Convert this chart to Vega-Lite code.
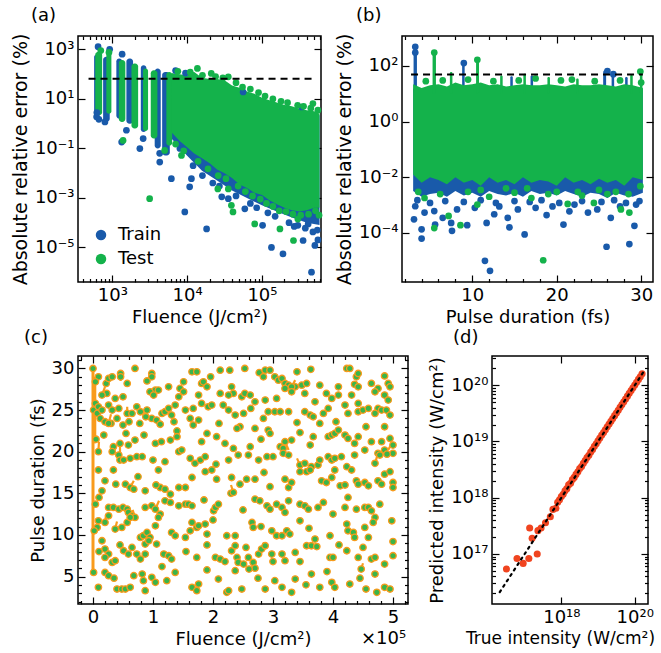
{
"$schema":"https://vega.github.io/schema/vega-lite/v6.json",
"background":"white",
"padding":{"left":10,"top":6,"right":2,"bottom":2},
"autosize":{"type":"pad"},
"spacing":1,
"resolve":{"scale":{"color":"independent"},"legend":{"color":"independent"}},
"datasets":{
"aStripes":[
{"F1":570,"F2":650,"E1":1.4,"E2":600,"s":"Train"},
{"F1":752,"F2":922,"E1":1.2,"E2":500,"s":"Train"},
{"F1":1130,"F2":1350,"E1":1.6,"E2":430,"s":"Train"},
{"F1":1540,"F2":1890,"E1":1.0,"E2":430,"s":"Train"},
{"F1":2400,"F2":2850,"E1":0.46,"E2":230,"s":"Train"},
{"F1":3680,"F2":4430,"E1":0.1,"E2":170,"s":"Train"},
{"F1":4630,"F2":5860,"E1":0.052,"E2":123,"s":"Train"},
{"F1":590,"F2":730,"E1":2.2,"E2":800,"s":"Test"},
{"F1":830,"F2":970,"E1":2.5,"E2":700,"s":"Test"},
{"F1":1220,"F2":1490,"E1":1.17,"E2":370,"s":"Test"},
{"F1":1800,"F2":2210,"E1":0.63,"E2":270,"s":"Test"},
{"F1":2570,"F2":3000,"E1":0.5,"E2":170,"s":"Test"},
{"F1":3260,"F2":4000,"E1":0.25,"E2":145,"s":"Test"},
{"F1":5270,"F2":6300,"E1":0.13,"E2":123,"s":"Test"}
],
"aArea":[
{"F":6170,"hi":80,"lo":0.25,"s":"Train"},
{"F":10000,"hi":80,"lo":0.05,"s":"Train"},
{"F":15800,"hi":63,"lo":0.0126,"s":"Train"},
{"F":25100,"hi":50,"lo":0.005,"s":"Train"},
{"F":39800,"hi":32,"lo":0.002,"s":"Train"},
{"F":63100,"hi":18,"lo":0.001,"s":"Train"},
{"F":100000,"hi":10,"lo":0.0005,"s":"Train"},
{"F":158000,"hi":6.3,"lo":0.00028,"s":"Train"},
{"F":251000,"hi":4.5,"lo":0.00016,"s":"Train"},
{"F":398000,"hi":3.2,"lo":0.0001,"s":"Train"},
{"F":589000,"hi":2.2,"lo":0.00008,"s":"Train"},
{"F":6170,"hi":112,"lo":0.45,"s":"Test"},
{"F":7940,"hi":100,"lo":0.2,"s":"Test"},
{"F":10000,"hi":89,"lo":0.11,"s":"Test"},
{"F":12300,"hi":126,"lo":0.063,"s":"Test"},
{"F":15800,"hi":71,"lo":0.04,"s":"Test"},
{"F":20000,"hi":63,"lo":0.025,"s":"Test"},
{"F":25100,"hi":63,"lo":0.014,"s":"Test"},
{"F":31600,"hi":56,"lo":0.01,"s":"Test"},
{"F":39800,"hi":35,"lo":0.0063,"s":"Test"},
{"F":50100,"hi":28,"lo":0.0035,"s":"Test"},
{"F":63100,"hi":20,"lo":0.0025,"s":"Test"},
{"F":79400,"hi":16,"lo":0.0016,"s":"Test"},
{"F":100000,"hi":11,"lo":0.0013,"s":"Test"},
{"F":126000,"hi":8.9,"lo":0.0008,"s":"Test"},
{"F":158000,"hi":7.1,"lo":0.00056,"s":"Test"},
{"F":200000,"hi":5.6,"lo":0.0004,"s":"Test"},
{"F":251000,"hi":5,"lo":0.00032,"s":"Test"},
{"F":316000,"hi":4,"lo":0.00028,"s":"Test"},
{"F":398000,"hi":3.5,"lo":0.00032,"s":"Test"},
{"F":501000,"hi":3.2,"lo":0.0004,"s":"Test"},
{"F":589000,"hi":2.5,"lo":0.0004,"s":"Test"}
],
"aPts":[
{"F":644,"E":1280,"s":"Train"},{"F":920,"E":1000,"s":"Train"},{"F":1350,"E":640,"s":"Train"},{"F":56000,"E":19,"s":"Train"},{"F":340000,"E":4.7,"s":"Train"},
{"F":615,"E":1.9,"s":"Train"},{"F":795,"E":1.17,"s":"Train"},{"F":1540,"E":0.54,"s":"Train"},{"F":1330,"E":0.18,"s":"Train"},{"F":2330,"E":0.098,"s":"Train"},
{"F":2580,"E":0.25,"s":"Train"},{"F":4290,"E":0.063,"s":"Train"},{"F":4300,"E":0.028,"s":"Train"},{"F":6150,"E":0.006,"s":"Train"},{"F":11400,"E":0.006,"s":"Train"},
{"F":10800,"E":0.0028,"s":"Train"},{"F":9300,"E":0.00027,"s":"Train"},{"F":18200,"E":0.000056,"s":"Train"},{"F":29000,"E":0.0011,"s":"Train"},{"F":35500,"E":0.00093,"s":"Train"},
{"F":59000,"E":0.00036,"s":"Train"},{"F":102000,"E":0.000078,"s":"Train"},{"F":134000,"E":0.00001,"s":"Train"},{"F":191000,"E":0.0000055,"s":"Train"},{"F":355000,"E":0.000019,"s":"Train"},
{"F":415000,"E":0.000089,"s":"Train"},{"F":510000,"E":0.000012,"s":"Train"},{"F":460000,"E":0.000001,"s":"Train"},{"F":480000,"E":0.000042,"s":"Train"},{"F":302000,"E":0.000078,"s":"Train"},
{"F":8000,"E":0.1,"s":"Train"},{"F":12000,"E":0.02,"s":"Train"},{"F":16000,"E":0.008,"s":"Train"},{"F":22000,"E":0.004,"s":"Train"},{"F":27000,"E":0.003,"s":"Train"},
{"F":45000,"E":0.0012,"s":"Train"},{"F":70000,"E":0.0006,"s":"Train"},{"F":85000,"E":0.0004,"s":"Train"},{"F":120000,"E":0.00025,"s":"Train"},{"F":150000,"E":0.00018,"s":"Train"},
{"F":230000,"E":0.0001,"s":"Train"},{"F":270000,"E":0.00007,"s":"Train"},{"F":380000,"E":0.00006,"s":"Train"},{"F":550000,"E":0.00005,"s":"Train"},{"F":560000,"E":0.00002,"s":"Train"},
{"F":7000,"E":140,"s":"Train"},{"F":9500,"E":110,"s":"Train"},{"F":620,"E":2.8,"s":"Train"},{"F":660,"E":1.5,"s":"Train"},
{"F":13700,"E":170,"s":"Test"},{"F":21000,"E":107,"s":"Test"},{"F":35500,"E":78,"s":"Test"},{"F":480000,"E":6.5,"s":"Test"},{"F":1390,"E":0.21,"s":"Test"},
{"F":5000,"E":0.083,"s":"Test"},{"F":8400,"E":0.052,"s":"Test"},{"F":3150,"E":0.00093,"s":"Test"},{"F":25700,"E":0.0023,"s":"Test"},{"F":35500,"E":0.0023,"s":"Test"},
{"F":39000,"E":0.0005,"s":"Test"},{"F":41000,"E":0.00027,"s":"Test"},{"F":80000,"E":0.000089,"s":"Test"},{"F":174000,"E":0.000056,"s":"Test"},{"F":264000,"E":0.000019,"s":"Test"},
{"F":302000,"E":0.00014,"s":"Test"},{"F":7500,"E":130,"s":"Test"},{"F":11000,"E":120,"s":"Test"},{"F":16000,"E":90,"s":"Test"},{"F":24000,"E":80,"s":"Test"},
{"F":30000,"E":70,"s":"Test"},{"F":45000,"E":45,"s":"Test"},{"F":55000,"E":30,"s":"Test"},{"F":70000,"E":25,"s":"Test"},{"F":90000,"E":18,"s":"Test"},
{"F":110000,"E":13,"s":"Test"},{"F":140000,"E":10,"s":"Test"},{"F":180000,"E":8,"s":"Test"},{"F":220000,"E":7,"s":"Test"},{"F":300000,"E":5.5,"s":"Test"},
{"F":360000,"E":5,"s":"Test"},{"F":450000,"E":4.2,"s":"Test"},{"F":560000,"E":3.5,"s":"Test"},{"F":7000,"E":0.15,"s":"Test"},{"F":9000,"E":0.08,"s":"Test"},
{"F":14000,"E":0.03,"s":"Test"},{"F":19000,"E":0.015,"s":"Test"},{"F":26000,"E":0.008,"s":"Test"},{"F":33000,"E":0.006,"s":"Test"},{"F":48000,"E":0.003,"s":"Test"},
{"F":60000,"E":0.0018,"s":"Test"},{"F":75000,"E":0.0012,"s":"Test"},{"F":95000,"E":0.0009,"s":"Test"},{"F":115000,"E":0.0006,"s":"Test"},{"F":140000,"E":0.00045,"s":"Test"},
{"F":170000,"E":0.0003,"s":"Test"},{"F":210000,"E":0.00028,"s":"Test"},{"F":260000,"E":0.00022,"s":"Test"},{"F":330000,"E":0.0002,"s":"Test"},{"F":420000,"E":0.00022,"s":"Test"},
{"F":520000,"E":0.0003,"s":"Test"},{"F":580000,"E":0.0002,"s":"Test"},{"F":700,"E":900,"s":"Test"},{"F":900,"E":750,"s":"Test"}
],
"aDash":[{"F":480,"F2":530000,"E":65}],
"bArea":[
{"t":3.0,"hi":15,"lo":0.0032,"s":"Train"},{"t":4,"hi":15,"lo":0.002,"s":"Train"},{"t":5,"hi":15,"lo":0.0025,"s":"Train"},{"t":6,"hi":15,"lo":0.0028,"s":"Train"},
{"t":7,"hi":15,"lo":0.002,"s":"Train"},{"t":8,"hi":15,"lo":0.0032,"s":"Train"},{"t":9,"hi":15,"lo":0.0022,"s":"Train"},{"t":10,"hi":15,"lo":0.0028,"s":"Train"},
{"t":11,"hi":15,"lo":0.002,"s":"Train"},{"t":12,"hi":15,"lo":0.0032,"s":"Train"},{"t":13,"hi":15,"lo":0.0025,"s":"Train"},{"t":14,"hi":15,"lo":0.0022,"s":"Train"},
{"t":15,"hi":15,"lo":0.0028,"s":"Train"},{"t":16,"hi":15,"lo":0.002,"s":"Train"},{"t":17,"hi":15,"lo":0.0032,"s":"Train"},{"t":18,"hi":15,"lo":0.0025,"s":"Train"},
{"t":19,"hi":15,"lo":0.0028,"s":"Train"},{"t":20,"hi":15,"lo":0.0022,"s":"Train"},{"t":21,"hi":15,"lo":0.0032,"s":"Train"},{"t":22,"hi":15,"lo":0.0025,"s":"Train"},
{"t":23,"hi":15,"lo":0.002,"s":"Train"},{"t":24,"hi":15,"lo":0.0028,"s":"Train"},{"t":25,"hi":15,"lo":0.0025,"s":"Train"},{"t":26,"hi":15,"lo":0.0018,"s":"Train"},
{"t":27,"hi":15,"lo":0.0028,"s":"Train"},{"t":28,"hi":15,"lo":0.0022,"s":"Train"},{"t":29,"hi":15,"lo":0.002,"s":"Train"},{"t":30.2,"hi":15,"lo":0.0028,"s":"Train"},
{"t":3.0,"hi":22,"lo":0.0126,"s":"Test"},{"t":4,"hi":16,"lo":0.0063,"s":"Test"},{"t":5,"hi":20,"lo":0.01,"s":"Test"},{"t":6,"hi":22,"lo":0.0079,"s":"Test"},
{"t":7,"hi":18,"lo":0.0056,"s":"Test"},{"t":8,"hi":25,"lo":0.01,"s":"Test"},{"t":9,"hi":20,"lo":0.0063,"s":"Test"},{"t":10,"hi":22,"lo":0.0079,"s":"Test"},
{"t":11,"hi":25,"lo":0.005,"s":"Test"},{"t":12,"hi":20,"lo":0.01,"s":"Test"},{"t":13,"hi":22,"lo":0.0063,"s":"Test"},{"t":14,"hi":18,"lo":0.0079,"s":"Test"},
{"t":15,"hi":20,"lo":0.0056,"s":"Test"},{"t":16,"hi":22,"lo":0.01,"s":"Test"},{"t":17,"hi":20,"lo":0.0063,"s":"Test"},{"t":18,"hi":20,"lo":0.0079,"s":"Test"},
{"t":19,"hi":22,"lo":0.0071,"s":"Test"},{"t":20,"hi":20,"lo":0.005,"s":"Test"},{"t":21,"hi":18,"lo":0.01,"s":"Test"},{"t":22,"hi":22,"lo":0.0063,"s":"Test"},
{"t":23,"hi":20,"lo":0.0079,"s":"Test"},{"t":24,"hi":20,"lo":0.0056,"s":"Test"},{"t":25,"hi":22,"lo":0.0089,"s":"Test"},{"t":26,"hi":20,"lo":0.0063,"s":"Test"},
{"t":27,"hi":18,"lo":0.0079,"s":"Test"},{"t":28,"hi":22,"lo":0.005,"s":"Test"},{"t":29,"hi":20,"lo":0.01,"s":"Test"},{"t":30.2,"hi":16,"lo":0.0079,"s":"Test"}
],
"bSpikes":[
{"t1":3.05,"t2":3.45,"e1":10,"e2":430,"s":"Train"},{"t1":8.8,"t2":9.1,"e1":10,"e2":125,"s":"Train"},{"t1":14.5,"t2":14.8,"e1":10,"e2":42,"s":"Train"},
{"t1":16.9,"t2":17.2,"e1":10,"e2":45,"s":"Train"},{"t1":25.5,"t2":25.85,"e1":10,"e2":68,"s":"Train"},{"t1":26.5,"t2":26.8,"e1":10,"e2":52,"s":"Train"},
{"t1":28.1,"t2":28.4,"e1":10,"e2":40,"s":"Train"},
{"t1":5.3,"t2":5.7,"e1":10,"e2":330,"s":"Test"},{"t1":10.45,"t2":10.8,"e1":10,"e2":150,"s":"Test"},{"t1":7.35,"t2":7.65,"e1":10,"e2":60,"s":"Test"},
{"t1":13.3,"t2":13.6,"e1":10,"e2":45,"s":"Test"},{"t1":16.05,"t2":16.35,"e1":10,"e2":52,"s":"Test"},{"t1":18.9,"t2":19.2,"e1":10,"e2":40,"s":"Test"},
{"t1":22.3,"t2":22.6,"e1":10,"e2":35,"s":"Test"},{"t1":28.7,"t2":29.0,"e1":10,"e2":48,"s":"Test"},{"t1":29.85,"t2":30.15,"e1":10,"e2":62,"s":"Test"}
],
"bPts":[
{"t":3.1,"e":0.00031,"s":"Train"},{"t":4.0,"e":0.000063,"s":"Train"},{"t":4.0,"e":0.000135,"s":"Train"},{"t":3.25,"e":0.00091,"s":"Train"},{"t":4.35,"e":0.00054,"s":"Train"},
{"t":5.5,"e":0.00061,"s":"Train"},{"t":5.6,"e":0.0002,"s":"Train"},{"t":6.5,"e":0.00035,"s":"Train"},{"t":7.5,"e":0.00023,"s":"Train"},{"t":7.6,"e":0.00012,"s":"Train"},
{"t":9.4,"e":0.00019,"s":"Train"},{"t":11.5,"e":0.00001,"s":"Train"},{"t":12.1,"e":0.0000044,"s":"Train"},{"t":11.7,"e":0.00023,"s":"Train"},{"t":12.6,"e":0.00047,"s":"Train"},
{"t":14.2,"e":0.00035,"s":"Train"},{"t":14.4,"e":0.00016,"s":"Train"},{"t":16.2,"e":0.000089,"s":"Train"},{"t":15.4,"e":0.0007,"s":"Train"},{"t":18.8,"e":0.00044,"s":"Train"},
{"t":20.8,"e":0.0002,"s":"Train"},{"t":22.1,"e":0.00105,"s":"Train"},{"t":23.7,"e":0.00054,"s":"Train"},{"t":25.9,"e":0.000032,"s":"Train"},{"t":26.4,"e":0.00035,"s":"Train"},
{"t":28.6,"e":0.00004,"s":"Train"},{"t":29.2,"e":0.00018,"s":"Train"},{"t":29.4,"e":0.00105,"s":"Train"},{"t":17.5,"e":0.0008,"s":"Train"},{"t":19.5,"e":0.0009,"s":"Train"},
{"t":24.8,"e":0.0007,"s":"Train"},{"t":27.5,"e":0.0009,"s":"Train"},{"t":10.3,"e":0.0008,"s":"Train"},{"t":13.2,"e":0.0009,"s":"Train"},{"t":8.2,"e":0.0007,"s":"Train"},
{"t":21.5,"e":0.0006,"s":"Train"},{"t":3.25,"e":480,"s":"Train"},{"t":3.25,"e":300,"s":"Train"},{"t":26.0,"e":65,"s":"Train"},{"t":26.7,"e":50,"s":"Train"},
{"t":9.0,"e":125,"s":"Train"},{"t":3.5,"e":0.0015,"s":"Train"},{"t":5.0,"e":0.0012,"s":"Train"},{"t":6.8,"e":0.0014,"s":"Train"},{"t":9.0,"e":0.0013,"s":"Train"},
{"t":11.0,"e":0.0015,"s":"Train"},{"t":12.8,"e":0.0012,"s":"Train"},{"t":15.0,"e":0.0014,"s":"Train"},{"t":16.8,"e":0.0013,"s":"Train"},{"t":18.2,"e":0.0015,"s":"Train"},
{"t":20.3,"e":0.0012,"s":"Train"},{"t":23.0,"e":0.0014,"s":"Train"},{"t":25.3,"e":0.0013,"s":"Train"},{"t":26.8,"e":0.0015,"s":"Train"},{"t":28.2,"e":0.0012,"s":"Train"},
{"t":29.8,"e":0.0014,"s":"Train"},
{"t":5.5,"e":0.00015,"s":"Test"},{"t":8.6,"e":0.00019,"s":"Test"},{"t":7.2,"e":0.00041,"s":"Test"},{"t":10.6,"e":0.00105,"s":"Test"},{"t":18.4,"e":0.0000105,"s":"Test"},
{"t":21.3,"e":0.0011,"s":"Test"},{"t":24.4,"e":0.0012,"s":"Test"},{"t":27.6,"e":0.0007,"s":"Test"},{"t":28.6,"e":0.00054,"s":"Test"},{"t":29.9,"e":0.0048,"s":"Test"},
{"t":4.35,"e":0.0018,"s":"Test"},{"t":6.2,"e":0.0025,"s":"Test"},{"t":12.0,"e":0.002,"s":"Test"},{"t":15.0,"e":0.0028,"s":"Test"},{"t":17.0,"e":0.0018,"s":"Test"},
{"t":20.0,"e":0.003,"s":"Test"},{"t":23.0,"e":0.0022,"s":"Test"},{"t":26.0,"e":0.0025,"s":"Test"},{"t":9.5,"e":0.003,"s":"Test"},{"t":14.0,"e":0.004,"s":"Test"},
{"t":19.0,"e":0.0025,"s":"Test"},{"t":25.0,"e":0.0035,"s":"Test"},{"t":3.6,"e":0.003,"s":"Test"},{"t":11.0,"e":0.0035,"s":"Test"},{"t":16.5,"e":0.004,"s":"Test"},
{"t":22.5,"e":0.003,"s":"Test"},{"t":27.0,"e":0.003,"s":"Test"},{"t":28.5,"e":0.0025,"s":"Test"},{"t":5.5,"e":300,"s":"Test"},{"t":10.6,"e":165,"s":"Test"},
{"t":29.9,"e":62,"s":"Test"},{"t":4.5,"e":28,"s":"Test"},{"t":6.5,"e":30,"s":"Test"},{"t":9.5,"e":32,"s":"Test"},{"t":12.5,"e":28,"s":"Test"},
{"t":15.5,"e":30,"s":"Test"},{"t":17.5,"e":35,"s":"Test"},{"t":20.5,"e":30,"s":"Test"},{"t":21.8,"e":32,"s":"Test"},{"t":24.5,"e":28,"s":"Test"},
{"t":27.5,"e":30,"s":"Test"},{"t":30.0,"e":25,"s":"Test"}
],
"bDash":[{"t":2.75,"t2":30.2,"e":49}],
"cLong":[{"f":0,"t":5.5,"f2":0,"t2":30},{"f":0.03,"t":21,"f2":0.03,"t2":29}],
"cSeg":[
{"f":0.95,"t":27.6,"f2":1.01,"t2":26.4},{"f":0.46,"t":29.4,"f2":0.46,"t2":28.5},{"f":1.04,"t":26.8,"f2":1.1,"t2":27.6},{"f":0.98,"t":29.4,"f2":0.98,"t2":28.7},
{"f":0.57,"t":24.6,"f2":0.57,"t2":25.4},{"f":0.45,"t":21.0,"f2":0.45,"t2":19.0},{"f":0.26,"t":23.4,"f2":0.3,"t2":24.5},{"f":0.15,"t":26.8,"f2":0.2,"t2":27.8},
{"f":1.62,"t":19.2,"f2":1.7,"t2":18.6},{"f":1.43,"t":20.0,"f2":1.48,"t2":20.6},{"f":3.2,"t":21.2,"f2":3.26,"t2":20.2},{"f":2.34,"t":15.1,"f2":2.3,"t2":16.0},
{"f":4.75,"t":19.8,"f2":4.7,"t2":18.6},{"f":3.45,"t":18.4,"f2":3.4,"t2":19.2},{"f":0.62,"t":15.7,"f2":0.68,"t2":16.5},{"f":0.7,"t":12.1,"f2":0.66,"t2":13},
{"f":1.04,"t":13.1,"f2":1.1,"t2":14.1},{"f":0.37,"t":10.7,"f2":0.4,"t2":11.6},{"f":2.81,"t":8.3,"f2":2.85,"t2":9.1},{"f":0.87,"t":8.9,"f2":0.9,"t2":9.6},
{"f":4.47,"t":5.9,"f2":4.5,"t2":6.6},{"f":1.73,"t":3.3,"f2":1.76,"t2":4.1},{"f":3.31,"t":27.8,"f2":3.37,"t2":28.6},{"f":0.09,"t":20.0,"f2":0.1,"t2":21.2},
{"f":0.2,"t":11.5,"f2":0.22,"t2":12.5},{"f":4.92,"t":20.2,"f2":4.98,"t2":21.0}
],
"cPts":[
{"f":0,"t":30},{"f":0.7,"t":30},{"f":0.46,"t":29.4},{"f":0.46,"t":29.0},{"f":0.98,"t":29.4},{"f":0.98,"t":29.0},{"f":1.65,"t":29.6},{"f":1.73,"t":29.6},{"f":1.96,"t":29.0},{"f":2.12,"t":29.8},
{"f":2.28,"t":29.8},{"f":2.53,"t":30},{"f":2.77,"t":29.5},{"f":2.87,"t":29.8},{"f":2.95,"t":29.8},{"f":2.84,"t":29.0},{"f":3.37,"t":27.8},{"f":3.4,"t":29.6},{"f":3.63,"t":29.9},{"f":4.23,"t":30},
{"f":4.28,"t":30},{"f":4.39,"t":29.0},{"f":4.42,"t":29.4},{"f":4.86,"t":29.1},{"f":4.92,"t":28.2},{"f":0.22,"t":28.2},{"f":0.26,"t":28.8},{"f":0.32,"t":29.0},{"f":0.09,"t":29.0},{"f":0.04,"t":28.4},
{"f":0.57,"t":28.2},{"f":0.9,"t":28.5},{"f":1.04,"t":27.4},{"f":1.45,"t":27.6},{"f":1.51,"t":28.4},{"f":1.81,"t":28.2},{"f":1.84,"t":28.4},{"f":1.9,"t":27.8},{"f":2.31,"t":27.8},{"f":2.34,"t":27.0},
{"f":3.03,"t":29.0},{"f":3.09,"t":28.6},{"f":3.15,"t":28.8},{"f":3.2,"t":28.2},{"f":3.26,"t":28.0},{"f":3.31,"t":27.8},{"f":3.48,"t":28.0},{"f":3.56,"t":28.2},{"f":3.78,"t":28.0},{"f":4.09,"t":27.8},
{"f":4.36,"t":28.1},{"f":4.42,"t":27.8},{"f":4.64,"t":28.2},{"f":4.75,"t":27.6},{"f":4.95,"t":27.8},
{"f":0.23,"t":27.0},{"f":0.15,"t":26.8},{"f":0.37,"t":26.4},{"f":0.5,"t":26.6},{"f":0.95,"t":27.2},{"f":1.01,"t":26.8},{"f":1.09,"t":27.4},{"f":1.26,"t":27.8},{"f":1.43,"t":26.6},{"f":1.51,"t":27.2},
{"f":1.76,"t":26.8},{"f":1.81,"t":25.8},{"f":2.12,"t":27.0},{"f":2.26,"t":26.8},{"f":2.48,"t":26.6},{"f":2.53,"t":27.0},{"f":2.62,"t":26.8},{"f":2.7,"t":26.0},{"f":2.87,"t":26.2},{"f":3.06,"t":26.4},
{"f":3.2,"t":27.6},{"f":3.31,"t":27.2},{"f":3.53,"t":27.0},{"f":3.7,"t":26.0},{"f":3.89,"t":27.0},{"f":3.98,"t":26.4},{"f":4.09,"t":26.8},{"f":4.31,"t":26.8},{"f":4.42,"t":25.8},{"f":4.7,"t":27.2},
{"f":4.86,"t":26.8},{"f":4.92,"t":26.2},{"f":4.75,"t":25.2},
{"f":0.04,"t":25.8},{"f":0.01,"t":25.0},{"f":0.09,"t":25.4},{"f":0.07,"t":24.6},{"f":0.15,"t":25.0},{"f":0.26,"t":25.6},{"f":0.32,"t":25.0},{"f":0.43,"t":25.2},{"f":0.57,"t":24.6},{"f":0.65,"t":24.6},
{"f":0.73,"t":25.4},{"f":0.79,"t":24.8},{"f":0.9,"t":25.0},{"f":0.98,"t":24.0},{"f":1.06,"t":23.8},{"f":1.15,"t":24.6},{"f":1.2,"t":24.8},{"f":1.26,"t":25.2},{"f":1.31,"t":24.4},{"f":1.37,"t":25.6},
{"f":1.54,"t":25.0},{"f":1.62,"t":24.0},{"f":1.67,"t":25.2},{"f":1.76,"t":23.8},{"f":1.92,"t":25.4},{"f":1.98,"t":25.6},{"f":2.17,"t":25.6},{"f":2.26,"t":25.0},{"f":2.37,"t":24.4},{"f":2.51,"t":24.6},
{"f":2.63,"t":25.2},{"f":2.84,"t":24.0},{"f":2.92,"t":24.8},{"f":3.03,"t":24.8},{"f":3.12,"t":24.8},{"f":3.26,"t":24.8},{"f":3.53,"t":24.8},{"f":3.62,"t":24.4},{"f":3.67,"t":24.2},{"f":3.78,"t":23.4},
{"f":3.84,"t":24.6},{"f":3.92,"t":25.2},{"f":4.2,"t":25.6},{"f":4.25,"t":24.6},{"f":4.42,"t":24.8},{"f":4.5,"t":25.0},{"f":4.59,"t":25.2},{"f":4.7,"t":24.6},{"f":4.81,"t":25.0},{"f":4.89,"t":25.0},
{"f":4.95,"t":24.4},{"f":4.86,"t":23.0},{"f":0.12,"t":24.0},{"f":0.2,"t":23.6},{"f":0.3,"t":23.4},{"f":0.4,"t":24.0},{"f":0.5,"t":23.2},{"f":0.6,"t":23.6},{"f":0.78,"t":23.4},{"f":0.88,"t":24.2},
{"f":1.12,"t":23.3},{"f":1.35,"t":23.6},{"f":2.1,"t":23.4},{"f":2.45,"t":23.0},{"f":2.7,"t":22.8},{"f":3.4,"t":23.5},{"f":4.05,"t":23.6},{"f":4.55,"t":23.0},{"f":1.4,"t":22.5},
{"f":0.26,"t":23.4},{"f":0.34,"t":20.6},{"f":0.45,"t":21.0},{"f":0.59,"t":20.8},{"f":0.7,"t":21.4},{"f":1.04,"t":21.0},{"f":1.14,"t":21.2},{"f":1.29,"t":21.4},{"f":1.4,"t":21.8},{"f":1.67,"t":23.2},
{"f":1.81,"t":21.2},{"f":1.9,"t":22.2},{"f":2.06,"t":21.8},{"f":2.34,"t":20.4},{"f":2.4,"t":22.8},{"f":2.62,"t":20.6},{"f":2.92,"t":22.6},{"f":2.95,"t":22.2},{"f":3.12,"t":20.6},{"f":3.17,"t":20.4},
{"f":3.2,"t":21.2},{"f":3.31,"t":21.4},{"f":3.62,"t":20.8},{"f":3.67,"t":21.8},{"f":3.92,"t":21.8},{"f":3.98,"t":22.0},{"f":4.03,"t":22.2},{"f":4.09,"t":22.6},{"f":4.2,"t":22.0},{"f":4.25,"t":21.6},
{"f":4.36,"t":21.0},{"f":4.42,"t":21.8},{"f":4.53,"t":20.2},{"f":4.64,"t":21.2},{"f":4.81,"t":21.2},{"f":4.86,"t":20.2},{"f":4.95,"t":21.6},{"f":5.0,"t":20.8},{"f":0.05,"t":21.5},{"f":0.18,"t":22.0},
{"f":0.55,"t":22.2},{"f":0.85,"t":22.0},{"f":2.2,"t":21.0},{"f":2.8,"t":21.5},{"f":3.45,"t":22.3},
{"f":0.09,"t":20.0},{"f":0.32,"t":20.0},{"f":0.43,"t":19.6},{"f":0.45,"t":19.0},{"f":0.51,"t":19.0},{"f":0.62,"t":19.2},{"f":0.73,"t":19.4},{"f":0.82,"t":19.4},{"f":1.43,"t":20.0},{"f":1.48,"t":20.2},
{"f":1.62,"t":19.2},{"f":1.7,"t":18.6},{"f":1.79,"t":19.0},{"f":1.87,"t":19.4},{"f":2.26,"t":19.0},{"f":2.42,"t":19.6},{"f":2.59,"t":19.6},{"f":2.76,"t":19.0},{"f":2.9,"t":19.4},{"f":3.0,"t":19.4},
{"f":3.17,"t":19.8},{"f":3.26,"t":19.6},{"f":3.45,"t":18.4},{"f":3.53,"t":18.6},{"f":3.64,"t":18.2},{"f":3.75,"t":18.4},{"f":3.78,"t":19.0},{"f":3.92,"t":19.4},{"f":3.98,"t":19.0},{"f":4.03,"t":19.2},
{"f":4.14,"t":19.4},{"f":4.23,"t":18.2},{"f":4.36,"t":19.6},{"f":4.75,"t":19.8},{"f":4.78,"t":19.6},{"f":5.0,"t":19.8},{"f":4.7,"t":18.6},{"f":1.2,"t":18.8},{"f":2.05,"t":18.5},{"f":1.0,"t":19.0},
{"f":4.9,"t":19.7},
{"f":0.09,"t":17.8},{"f":0.34,"t":17.8},{"f":0.38,"t":16.1},{"f":0.54,"t":16.1},{"f":0.62,"t":15.7},{"f":0.68,"t":15.5},{"f":0.87,"t":15.3},{"f":1.09,"t":17.8},{"f":1.12,"t":15.7},{"f":1.2,"t":15.5},
{"f":1.29,"t":14.9},{"f":1.43,"t":15.7},{"f":1.54,"t":15.7},{"f":1.65,"t":16.9},{"f":1.87,"t":17.6},{"f":1.98,"t":17.8},{"f":2.06,"t":16.7},{"f":2.31,"t":16.9},{"f":2.45,"t":16.1},{"f":2.56,"t":16.7},
{"f":2.7,"t":16.7},{"f":3.2,"t":16.7},{"f":3.26,"t":15.7},{"f":3.31,"t":16.3},{"f":3.45,"t":17.6},{"f":3.56,"t":17.6},{"f":3.62,"t":17.8},{"f":3.81,"t":16.5},{"f":3.89,"t":16.3},{"f":3.98,"t":16.9},
{"f":4.03,"t":17.8},{"f":4.12,"t":15.9},{"f":4.31,"t":17.8},{"f":4.39,"t":16.5},{"f":4.42,"t":16.1},{"f":4.53,"t":16.3},{"f":4.59,"t":15.9},{"f":4.75,"t":16.5},{"f":4.81,"t":16.1},{"f":4.86,"t":17.3},
{"f":4.95,"t":17.6},{"f":5.0,"t":16.3},{"f":5.0,"t":15.7},{"f":0.2,"t":16.5},{"f":0.75,"t":17.0},{"f":1.05,"t":16.0},{"f":2.85,"t":17.5},{"f":2.95,"t":15.8},{"f":2.3,"t":15.0},{"f":4.2,"t":16.0},
{"f":0.04,"t":13.7},{"f":0.15,"t":15.3},{"f":0.26,"t":13.3},{"f":0.34,"t":13.3},{"f":0.43,"t":13.1},{"f":0.5,"t":13.3},{"f":0.57,"t":13.1},{"f":0.59,"t":12.7},{"f":0.65,"t":12.3},{"f":0.7,"t":12.1},
{"f":0.87,"t":13.3},{"f":0.98,"t":13.5},{"f":1.04,"t":13.1},{"f":1.12,"t":12.5},{"f":1.2,"t":14.1},{"f":1.29,"t":13.9},{"f":1.43,"t":13.5},{"f":1.54,"t":13.7},{"f":1.59,"t":13.7},{"f":1.65,"t":13.5},
{"f":2.01,"t":12.9},{"f":2.04,"t":13.3},{"f":2.09,"t":13.7},{"f":2.34,"t":15.1},{"f":2.7,"t":14.3},{"f":2.78,"t":14.1},{"f":2.9,"t":13.5},{"f":2.95,"t":13.1},{"f":3.06,"t":13.7},{"f":3.15,"t":13.3},
{"f":3.2,"t":12.7},{"f":3.26,"t":14.1},{"f":3.45,"t":13.7},{"f":3.53,"t":13.5},{"f":3.59,"t":13.1},{"f":3.75,"t":13.3},{"f":3.84,"t":13.9},{"f":4.2,"t":13.3},{"f":4.25,"t":14.5},{"f":4.39,"t":13.1},
{"f":4.53,"t":13.3},{"f":4.59,"t":13.3},{"f":4.64,"t":12.9},{"f":4.7,"t":12.1},{"f":4.78,"t":13.7},{"f":0.1,"t":14.5},{"f":1.85,"t":14.2},{"f":2.5,"t":13.0},{"f":4.0,"t":12.5},
{"f":0.09,"t":11.7},{"f":0.07,"t":10.9},{"f":0.2,"t":11.5},{"f":0.26,"t":12.3},{"f":0.37,"t":10.7},{"f":0.48,"t":10.9},{"f":0.57,"t":11.5},{"f":0.62,"t":12.1},{"f":0.79,"t":9.7},{"f":0.84,"t":9.9},
{"f":0.9,"t":10.3},{"f":0.95,"t":9.7},{"f":1.04,"t":11.1},{"f":1.09,"t":12.1},{"f":1.31,"t":10.3},{"f":1.37,"t":9.9},{"f":1.54,"t":9.7},{"f":1.62,"t":10.5},{"f":1.65,"t":11.5},{"f":1.73,"t":10.9},
{"f":1.76,"t":11.1},{"f":1.87,"t":11.3},{"f":1.9,"t":10.1},{"f":2.23,"t":9.9},{"f":2.37,"t":9.9},{"f":2.65,"t":11.5},{"f":2.67,"t":10.9},{"f":2.98,"t":10.5},{"f":3.06,"t":9.9},{"f":3.15,"t":9.9},
{"f":3.23,"t":10.5},{"f":3.28,"t":10.1},{"f":3.45,"t":11.7},{"f":3.7,"t":9.5},{"f":3.95,"t":9.9},{"f":4.23,"t":11.3},{"f":4.25,"t":10.5},{"f":4.34,"t":10.3},{"f":4.36,"t":9.7},{"f":4.53,"t":10.9},
{"f":4.59,"t":9.7},{"f":4.67,"t":11.5},{"f":4.98,"t":11.7},{"f":5.0,"t":9.2},{"f":0.02,"t":10.5},{"f":2.0,"t":11.8},{"f":2.8,"t":11.0},{"f":3.6,"t":10.8},
{"f":0.15,"t":9.3},{"f":0.2,"t":8.3},{"f":0.26,"t":7.7},{"f":0.32,"t":6.7},{"f":0.37,"t":6.9},{"f":0.2,"t":7.3},{"f":0.51,"t":8.1},{"f":0.59,"t":7.7},{"f":0.65,"t":8.5},{"f":0.73,"t":7.7},
{"f":0.79,"t":7.1},{"f":0.87,"t":7.7},{"f":0.87,"t":8.9},{"f":0.93,"t":9.3},{"f":1.06,"t":8.9},{"f":1.18,"t":7.7},{"f":1.26,"t":7.5},{"f":1.31,"t":7.1},{"f":1.73,"t":7.3},{"f":2.04,"t":7.3},
{"f":2.12,"t":7.1},{"f":2.31,"t":8.1},{"f":2.37,"t":8.7},{"f":2.4,"t":7.3},{"f":2.42,"t":6.7},{"f":2.51,"t":6.5},{"f":2.59,"t":7.3},{"f":2.67,"t":6.7},{"f":2.76,"t":7.7},{"f":2.81,"t":8.3},
{"f":2.87,"t":8.7},{"f":2.98,"t":7.7},{"f":3.15,"t":7.7},{"f":3.2,"t":6.9},{"f":3.37,"t":7.9},{"f":3.56,"t":8.7},{"f":3.64,"t":8.7},{"f":3.73,"t":8.6},{"f":3.95,"t":7.3},{"f":4.0,"t":7.3},
{"f":4.23,"t":8.1},{"f":4.42,"t":7.3},{"f":4.64,"t":7.1},{"f":4.7,"t":7.3},{"f":4.86,"t":6.5},{"f":5.0,"t":7.5},{"f":0.45,"t":8.8},{"f":1.55,"t":8.0},{"f":1.9,"t":8.8},{"f":3.0,"t":6.8},
{"f":3.45,"t":6.8},{"f":4.1,"t":8.8},{"f":4.5,"t":8.5},{"f":0.1,"t":8.0},{"f":2.55,"t":8.5},{"f":2.2,"t":6.8},{"f":2.7,"t":6.0},
{"f":0.01,"t":5.5},{"f":0.2,"t":5.5},{"f":0.26,"t":5.1},{"f":0.09,"t":3.7},{"f":0.4,"t":3.5},{"f":0.48,"t":3.5},{"f":0.54,"t":3.5},{"f":0.62,"t":3.7},{"f":0.68,"t":5.1},{"f":0.82,"t":5.3},
{"f":0.84,"t":4.5},{"f":0.87,"t":3.3},{"f":0.98,"t":4.9},{"f":1.04,"t":4.3},{"f":1.23,"t":4.5},{"f":1.37,"t":5.5},{"f":1.65,"t":3.7},{"f":1.73,"t":3.3},{"f":1.76,"t":4.1},{"f":2.09,"t":4.7},
{"f":2.23,"t":3.1},{"f":2.26,"t":3.3},{"f":2.37,"t":5.7},{"f":2.48,"t":3.5},{"f":2.87,"t":3.5},{"f":3.03,"t":4.5},{"f":3.15,"t":3.7},{"f":3.31,"t":3.1},{"f":3.37,"t":4.7},{"f":3.64,"t":5.3},
{"f":3.78,"t":3.7},{"f":3.98,"t":4.3},{"f":4.03,"t":3.7},{"f":4.28,"t":4.1},{"f":4.47,"t":5.9},{"f":4.7,"t":5.3},{"f":4.73,"t":3.1},{"f":4.86,"t":3.7},{"f":4.95,"t":3.5},{"f":1.15,"t":6.2},
{"f":2.6,"t":5.9},{"f":2.75,"t":4.8},{"f":3.9,"t":5.6},{"f":4.45,"t":4.8},{"f":1.9,"t":5.8},{"f":0.35,"t":4.8},{"f":3.55,"t":4.0},{"f":4.55,"t":3.5}
],
"cTxt":[{"f":5.22,"t":-3.1,"label":"×10⁵"}],
"dLow":[
{"I":3.2e16,"P":5.4e16},{"I":6.2e16,"P":8.3e16},{"I":9.1e16,"P":6.8e16},{"I":1.3e17,"P":8.3e16},{"I":1.37e17,"P":2.9e17},{"I":1.6e17,"P":1.9e17},
{"I":2.2e17,"P":1.0e17},{"I":2.3e17,"P":2.6e17},{"I":2.8e17,"P":2.9e17},{"I":3.7e17,"P":3.6e17},{"I":5.0e17,"P":4.6e17},{"I":5.9e17,"P":6.2e17},{"I":7.1e17,"P":6.5e17}
],
"dHi1":[
{"I":7.94e17,"P":8.3e17},{"I":8.91e17,"P":9.2e17},{"I":1.0e18,"P":1.05e18},{"I":1.12e18,"P":1.15e18},{"I":1.26e18,"P":1.33e18},{"I":1.41e18,"P":1.45e18},
{"I":1.58e18,"P":1.7e18},{"I":1.78e18,"P":1.8e18},{"I":2.0e18,"P":2.1e18},{"I":2.24e18,"P":2.3e18},{"I":2.51e18,"P":2.6e18},{"I":2.82e18,"P":2.9e18},
{"I":3.16e18,"P":3.3e18},{"I":3.55e18,"P":3.6e18},{"I":3.98e18,"P":4.1e18},{"I":4.47e18,"P":4.6e18},{"I":5.01e18,"P":5.2e18},{"I":5.62e18,"P":5.7e18},
{"I":6.31e18,"P":6.5e18},{"I":7.08e18,"P":7.2e18},{"I":7.94e18,"P":8.2e18},{"I":8.91e18,"P":9.1e18}
],
"dHi2":[
{"I":1.0e19,"P":1.03e19},{"I":1.12e19,"P":1.15e19},{"I":1.26e19,"P":1.3e19},{"I":1.41e19,"P":1.44e19},{"I":1.58e19,"P":1.62e19},{"I":1.78e19,"P":1.82e19},
{"I":2.0e19,"P":2.05e19},{"I":2.24e19,"P":2.28e19},{"I":2.51e19,"P":2.56e19},{"I":2.82e19,"P":2.88e19},{"I":3.16e19,"P":3.22e19},{"I":3.55e19,"P":3.6e19},
{"I":3.98e19,"P":4.05e19},{"I":4.47e19,"P":4.55e19},{"I":5.01e19,"P":5.1e19},{"I":5.62e19,"P":5.7e19},{"I":6.31e19,"P":6.4e19},{"I":7.08e19,"P":7.2e19},
{"I":7.94e19,"P":8.05e19},{"I":8.91e19,"P":9.0e19},{"I":1.0e20,"P":1.01e20},{"I":1.12e20,"P":1.13e20},{"I":1.26e20,"P":1.27e20},{"I":1.41e20,"P":1.42e20},{"I":1.58e20,"P":1.6e20}
],
"dLine":[{"I":2.1e16,"P":2.1e16},{"I":1.9e20,"P":1.9e20}]
},
"vconcat":[
{"hconcat":[
{
"width":243,"height":246,
"title":{"text":"(a)","dx":-47},
"resolve":{"axis":{"x":"independent","y":"independent"}},
"layer":[
{"data":{"name":"aStripes"},"transform":[{"filter":"datum.s == 'Train'"}],
 "mark":{"type":"rect","cornerRadius":3,"opacity":1},
 "encoding":{
  "x":{"field":"F1","type":"quantitative","scale":{"type":"log","domain":[347,616000],"nice":false},"axis":{"orient":"bottom","values":[1000,10000,100000],"labelExpr":"datum.value < 5000 ? '10³' : datum.value < 50000 ? '10⁴' : '10⁵'","title":"Fluence (J/cm²)"}},
  "x2":{"field":"F2"},
  "y":{"field":"E1","type":"quantitative","scale":{"type":"log","domain":[4e-7,3470],"nice":false},"axis":{"orient":"left","values":[0.00001,0.001,0.1,10,1000],"labelExpr":"datum.value < 0.0001 ? '10⁻⁵' : datum.value < 0.01 ? '10⁻³' : datum.value < 1 ? '10⁻¹' : datum.value < 100 ? '10¹' : '10³'","title":"Absolute relative error (%)","titleFontSize":19}},
  "y2":{"field":"E2"},
  "color":{"field":"s","type":"nominal","scale":{"domain":["Train","Test"],"range":["#195aaa","#14b24b"]},"legend":{"title":null,"orient":"bottom-left","offset":14,"padding":0,"symbolType":"circle","symbolSize":110,"labelFontSize":18,"labelOffset":8,"rowPadding":6,"symbolStrokeWidth":0,"symbolOpacity":1,"labelColor":"black"}}
 }},
{"data":{"name":"aArea"},"transform":[{"filter":"datum.s == 'Train'"}],
 "mark":{"type":"area","opacity":1},
 "encoding":{
  "x":{"field":"F","type":"quantitative","scale":{"type":"log","domain":[347,616000],"nice":false},"axis":{"orient":"top","values":[1000,10000,100000],"labels":false,"title":null}},
  "y":{"field":"hi","type":"quantitative","stack":null,"scale":{"type":"log","domain":[4e-7,3470],"nice":false},"axis":{"orient":"right","values":[0.00001,0.001,0.1,10,1000],"labels":false,"title":null}},
  "y2":{"field":"lo"},
  "color":{"field":"s","type":"nominal","scale":{"domain":["Train","Test"],"range":["#195aaa","#14b24b"]}}
 }},
{"data":{"name":"aStripes"},"transform":[{"filter":"datum.s == 'Test'"}],
 "mark":{"type":"rect","cornerRadius":3,"opacity":1},
 "encoding":{
  "x":{"field":"F1","type":"quantitative","scale":{"type":"log","domain":[347,616000],"nice":false},"axis":{"orient":"bottom","values":[400,500,600,700,800,900,2000,3000,4000,5000,6000,7000,8000,9000,20000,30000,40000,50000,60000,70000,80000,90000,200000,300000,400000,500000,600000],"labels":false,"title":null,"tickSize":-3.5}},
  "x2":{"field":"F2"},
  "y":{"field":"E1","type":"quantitative","scale":{"type":"log","domain":[4e-7,3470],"nice":false},"axis":null},
  "y2":{"field":"E2"},
  "color":{"field":"s","type":"nominal","scale":{"domain":["Train","Test"],"range":["#195aaa","#14b24b"]}}
 }},
{"data":{"name":"aArea"},"transform":[{"filter":"datum.s == 'Test'"}],
 "mark":{"type":"area","opacity":1},
 "encoding":{
  "x":{"field":"F","type":"quantitative","scale":{"type":"log","domain":[347,616000],"nice":false},"axis":{"orient":"top","values":[400,500,600,700,800,900,2000,3000,4000,5000,6000,7000,8000,9000,20000,30000,40000,50000,60000,70000,80000,90000,200000,300000,400000,500000,600000],"labels":false,"title":null,"tickSize":-3.5}},
  "y":{"field":"hi","type":"quantitative","stack":null,"scale":{"type":"log","domain":[4e-7,3470],"nice":false},"axis":null},
  "y2":{"field":"lo"},
  "color":{"field":"s","type":"nominal","scale":{"domain":["Train","Test"],"range":["#195aaa","#14b24b"]}}
 }},
{"data":{"name":"aPts"},"transform":[{"filter":"datum.s == 'Train'"}],
 "mark":{"type":"circle","size":45,"opacity":1,"strokeWidth":0},
 "encoding":{
  "x":{"field":"F","type":"quantitative","scale":{"type":"log","domain":[347,616000],"nice":false},"axis":null},
  "y":{"field":"E","type":"quantitative","scale":{"type":"log","domain":[4e-7,3470],"nice":false},"axis":null},
  "color":{"field":"s","type":"nominal","scale":{"domain":["Train","Test"],"range":["#195aaa","#14b24b"]}}
 }},
{"data":{"name":"aPts"},"transform":[{"filter":"datum.s == 'Test'"}],
 "mark":{"type":"circle","size":45,"opacity":1,"strokeWidth":0},
 "encoding":{
  "x":{"field":"F","type":"quantitative","scale":{"type":"log","domain":[347,616000],"nice":false},"axis":null},
  "y":{"field":"E","type":"quantitative","scale":{"type":"log","domain":[4e-7,3470],"nice":false},"axis":null},
  "color":{"field":"s","type":"nominal","scale":{"domain":["Train","Test"],"range":["#195aaa","#14b24b"]}}
 }},
{"data":{"name":"aDash"},
 "mark":{"type":"rule","strokeDash":[7,5],"strokeWidth":2,"color":"black"},
 "encoding":{
  "x":{"field":"F","type":"quantitative","scale":{"type":"log","domain":[347,616000],"nice":false},"axis":null},
  "x2":{"field":"F2"},
  "y":{"field":"E","type":"quantitative","scale":{"type":"log","domain":[4e-7,3470],"nice":false},"axis":null}
 }}
]
},
{
"width":251,"height":246,
"title":{"text":"(b)","dx":-46},
"resolve":{"axis":{"x":"independent","y":"independent"}},
"layer":[
{"data":{"name":"bArea"},"transform":[{"filter":"datum.s == 'Train'"}],
 "mark":{"type":"area","opacity":1,"color":"#195aaa"},
 "encoding":{
  "x":{"field":"t","type":"quantitative","scale":{"domain":[1.68,31.4],"nice":false,"zero":false},"axis":{"orient":"bottom","values":[10,20,30],"title":"Pulse duration (fs)"}},
  "y":{"field":"hi","type":"quantitative","stack":null,"scale":{"type":"log","domain":[1.74e-6,1175],"nice":false},"axis":{"orient":"left","values":[0.0001,0.01,1,100],"labelExpr":"datum.value < 0.001 ? '10⁻⁴' : datum.value < 0.1 ? '10⁻²' : datum.value < 10 ? '10⁰' : '10²'","title":"Absolute relative error (%)","titleFontSize":19}},
  "y2":{"field":"lo"}
 }},
{"data":{"name":"bSpikes"},"transform":[{"filter":"datum.s == 'Train'"}],
 "mark":{"type":"rect","opacity":1,"color":"#195aaa","cornerRadius":2},
 "encoding":{
  "x":{"field":"t1","type":"quantitative","scale":{"domain":[1.68,31.4],"nice":false,"zero":false},"axis":{"orient":"top","values":[10,20,30],"labels":false,"title":null}},
  "x2":{"field":"t2"},
  "y":{"field":"e1","type":"quantitative","scale":{"type":"log","domain":[1.74e-6,1175],"nice":false},"axis":{"orient":"right","values":[0.0001,0.01,1,100],"labels":false,"title":null}},
  "y2":{"field":"e2"}
 }},
{"data":{"name":"bArea"},"transform":[{"filter":"datum.s == 'Test'"}],
 "mark":{"type":"area","opacity":1,"color":"#14b24b"},
 "encoding":{
  "x":{"field":"t","type":"quantitative","scale":{"domain":[1.68,31.4],"nice":false,"zero":false},"axis":{"orient":"bottom","values":[2,4,6,8,12,14,16,18,22,24,26,28],"labels":false,"title":null,"tickSize":-3.5}},
  "y":{"field":"hi","type":"quantitative","stack":null,"scale":{"type":"log","domain":[1.74e-6,1175],"nice":false},"axis":null},
  "y2":{"field":"lo"}
 }},
{"data":{"name":"bSpikes"},"transform":[{"filter":"datum.s == 'Test'"}],
 "mark":{"type":"rect","opacity":1,"color":"#14b24b","cornerRadius":2},
 "encoding":{
  "x":{"field":"t1","type":"quantitative","scale":{"domain":[1.68,31.4],"nice":false,"zero":false},"axis":{"orient":"top","values":[2,4,6,8,12,14,16,18,22,24,26,28],"labels":false,"title":null,"tickSize":-3.5}},
  "x2":{"field":"t2"},
  "y":{"field":"e1","type":"quantitative","scale":{"type":"log","domain":[1.74e-6,1175],"nice":false},"axis":null},
  "y2":{"field":"e2"}
 }},
{"data":{"name":"bPts"},"transform":[{"filter":"datum.s == 'Train'"}],
 "mark":{"type":"circle","size":45,"opacity":1,"color":"#195aaa","strokeWidth":0},
 "encoding":{
  "x":{"field":"t","type":"quantitative","scale":{"domain":[1.68,31.4],"nice":false,"zero":false},"axis":null},
  "y":{"field":"e","type":"quantitative","scale":{"type":"log","domain":[1.74e-6,1175],"nice":false},"axis":null}
 }},
{"data":{"name":"bPts"},"transform":[{"filter":"datum.s == 'Test'"}],
 "mark":{"type":"circle","size":45,"opacity":1,"color":"#14b24b","strokeWidth":0},
 "encoding":{
  "x":{"field":"t","type":"quantitative","scale":{"domain":[1.68,31.4],"nice":false,"zero":false},"axis":null},
  "y":{"field":"e","type":"quantitative","scale":{"type":"log","domain":[1.74e-6,1175],"nice":false},"axis":null}
 }},
{"data":{"name":"bDash"},
 "mark":{"type":"rule","strokeDash":[7,5],"strokeWidth":2,"color":"black"},
 "encoding":{
  "x":{"field":"t","type":"quantitative","scale":{"domain":[1.68,31.4],"nice":false,"zero":false},"axis":null},
  "x2":{"field":"t2"},
  "y":{"field":"e","type":"quantitative","scale":{"type":"log","domain":[1.74e-6,1175],"nice":false},"axis":null}
 }}
]
}
],"spacing":81,"bounds":"flush","resolve":{"scale":{"color":"independent"},"legend":{"color":"independent"}}},
{"hconcat":[
{
"width":330,"height":248,
"title":{"text":"(c)","dx":-54},
"resolve":{"axis":{"x":"independent","y":"independent"}},
"layer":[
{"data":{"name":"cLong"},
 "mark":{"type":"rule","color":"#f99b1c","strokeWidth":3},
 "encoding":{
  "x":{"field":"f","type":"quantitative","scale":{"domain":[-0.25,5.25],"nice":false,"zero":false},"axis":{"orient":"bottom","values":[0,1,2,3,4,5],"title":"Fluence (J/cm²)"}},
  "x2":{"field":"f2"},
  "y":{"field":"t","type":"quantitative","scale":{"domain":[1.7,31.5],"nice":false,"zero":false},"axis":{"orient":"left","values":[5,10,15,20,25,30],"title":"Pulse duration (fs)"}},
  "y2":{"field":"t2"}
 }},
{"data":{"name":"cSeg"},
 "mark":{"type":"rule","color":"#f99b1c","strokeWidth":2.2},
 "encoding":{
  "x":{"field":"f","type":"quantitative","scale":{"domain":[-0.25,5.25],"nice":false,"zero":false},"axis":{"orient":"top","values":[0,1,2,3,4,5],"labels":false,"title":null}},
  "x2":{"field":"f2"},
  "y":{"field":"t","type":"quantitative","scale":{"domain":[1.7,31.5],"nice":false,"zero":false},"axis":{"orient":"right","values":[5,10,15,20,25,30],"labels":false,"title":null}},
  "y2":{"field":"t2"}
 }},
{"data":{"name":"cPts"},
 "mark":{"type":"point","shape":"circle","filled":true,"fill":"#3ab54a","stroke":"#f99b1c","strokeWidth":1.3,"size":42,"opacity":1},
 "encoding":{
  "x":{"field":"f","type":"quantitative","scale":{"domain":[-0.25,5.25],"nice":false,"zero":false},"axis":{"orient":"bottom","values":[-0.2,0.2,0.4,0.6,0.8,1.2,1.4,1.6,1.8,2.2,2.4,2.6,2.8,3.2,3.4,3.6,3.8,4.2,4.4,4.6,4.8,5.2],"labels":false,"title":null,"tickSize":-3.5}},
  "y":{"field":"t","type":"quantitative","scale":{"domain":[1.7,31.5],"nice":false,"zero":false},"axis":{"orient":"left","values":[2,3,4,6,7,8,9,11,12,13,14,16,17,18,19,21,22,23,24,26,27,28,29,31],"labels":false,"title":null,"tickSize":-3.5}}
 }},
{"data":{"name":"cTxt"},
 "mark":{"type":"text","align":"right","baseline":"alphabetic","fontSize":18,"color":"black"},
 "encoding":{
  "x":{"field":"f","type":"quantitative","scale":{"domain":[-0.25,5.25],"nice":false,"zero":false},"axis":{"orient":"top","values":[-0.2,0.2,0.4,0.6,0.8,1.2,1.4,1.6,1.8,2.2,2.4,2.6,2.8,3.2,3.4,3.6,3.8,4.2,4.4,4.6,4.8,5.2],"labels":false,"title":null,"tickSize":-3.5}},
  "y":{"field":"t","type":"quantitative","scale":{"domain":[1.7,31.5],"nice":false,"zero":false},"axis":{"orient":"right","values":[2,3,4,6,7,8,9,11,12,13,14,16,17,18,19,21,22,23,24,26,27,28,29,31],"labels":false,"title":null,"tickSize":-3.5}},
  "text":{"field":"label"}
 }}
]
},
{
"width":156,"height":248,
"title":{"text":"(d)","dx":-39},
"resolve":{"axis":{"x":"independent","y":"independent"}},
"layer":[
{"data":{"name":"dLow"},
 "mark":{"type":"circle","size":50,"opacity":1,"color":"#f0441f","strokeWidth":0},
 "encoding":{
  "x":{"field":"I","type":"quantitative","scale":{"type":"log","domain":[1.29e16,2.29e20],"nice":false},"axis":{"orient":"bottom","values":[1e18,1e20],"labelExpr":"datum.value < 1e19 ? '10¹⁸' : '10²⁰'","title":"True intensity (W/cm²)","titleFontSize":17,"titleX":68}},
  "y":{"field":"P","type":"quantitative","scale":{"type":"log","domain":[1.29e16,3.31e20],"nice":false},"axis":{"orient":"left","values":[1e17,1e18,1e19,1e20],"labelExpr":"datum.value < 5e17 ? '10¹⁷' : datum.value < 5e18 ? '10¹⁸' : datum.value < 5e19 ? '10¹⁹' : '10²⁰'","title":"Predicted intensity (W/cm²)"}}
 }},
{"data":{"name":"dHi1"},
 "mark":{"type":"circle","size":50,"opacity":1,"color":"#f0441f","strokeWidth":0},
 "encoding":{
  "x":{"field":"I","type":"quantitative","scale":{"type":"log","domain":[1.29e16,2.29e20],"nice":false},"axis":{"orient":"top","values":[1e18,1e20],"labels":false,"title":null}},
  "y":{"field":"P","type":"quantitative","scale":{"type":"log","domain":[1.29e16,3.31e20],"nice":false},"axis":{"orient":"right","values":[1e17,1e18,1e19,1e20],"labels":false,"title":null}}
 }},
{"data":{"name":"dHi2"},
 "mark":{"type":"circle","size":50,"opacity":1,"color":"#f0441f","strokeWidth":0},
 "encoding":{
  "x":{"field":"I","type":"quantitative","scale":{"type":"log","domain":[1.29e16,2.29e20],"nice":false},"axis":null},
  "y":{"field":"P","type":"quantitative","scale":{"type":"log","domain":[1.29e16,3.31e20],"nice":false},"axis":{"orient":"left","values":[2e16,3e16,4e16,5e16,6e16,7e16,8e16,9e16,2e17,3e17,4e17,5e17,6e17,7e17,8e17,9e17,2e18,3e18,4e18,5e18,6e18,7e18,8e18,9e18,2e19,3e19,4e19,5e19,6e19,7e19,8e19,9e19,2e20,3e20],"labels":false,"title":null,"tickSize":-3.5}}
 }},
{"data":{"name":"dLine"},
 "mark":{"type":"line","color":"black","strokeDash":[2,4.5],"strokeWidth":2.2,"strokeCap":"round"},
 "encoding":{
  "x":{"field":"I","type":"quantitative","scale":{"type":"log","domain":[1.29e16,2.29e20],"nice":false},"axis":null},
  "y":{"field":"P","type":"quantitative","scale":{"type":"log","domain":[1.29e16,3.31e20],"nice":false},"axis":{"orient":"right","values":[2e16,3e16,4e16,5e16,6e16,7e16,8e16,9e16,2e17,3e17,4e17,5e17,6e17,7e17,8e17,9e17,2e18,3e18,4e18,5e18,6e18,7e18,8e18,9e18,2e19,3e19,4e19,5e19,6e19,7e19,8e19,9e19,2e20,3e20],"labels":false,"title":null,"tickSize":-3.5}}
 }}
]
}
],"spacing":84,"bounds":"flush"}
],
"config":{
 "font":"DejaVu Sans",
 "view":{"stroke":"black","strokeWidth":1.5},
 "axis":{"domain":false,"grid":false,"tickColor":"black","tickWidth":1.2,"tickSize":-7,"labelFontSize":18,"titleFontSize":18,"titleFontWeight":"normal","labelColor":"black","titleColor":"black","labelPadding":11,"titlePadding":4,"labelFlush":false,"labelOverlap":false,"labelBound":false,"labelFont":"DejaVu Sans","titleFont":"DejaVu Sans"},
 "title":{"fontSize":18,"fontWeight":"normal","anchor":"start","frame":"group","color":"black","offset":8,"font":"DejaVu Sans"}
}
}
